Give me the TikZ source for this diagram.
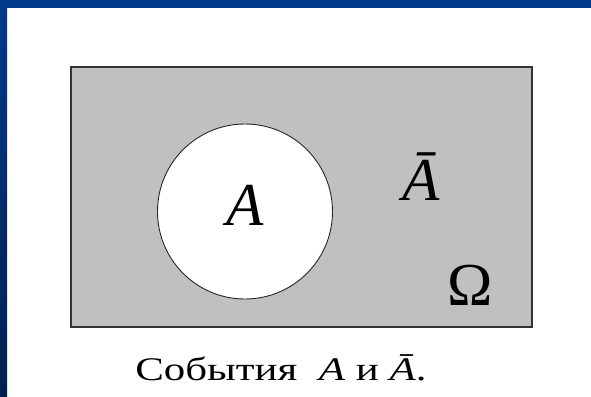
\documentclass[tikz,border=0pt]{standalone}
\usepackage{fontspec}
\setmainfont{Liberation Serif}
\usetikzlibrary{positioning}
\definecolor{barblue}{HTML}{003A8C}
\definecolor{barbluedark}{HTML}{00204F}
\definecolor{omegagray}{HTML}{C0C0C0}

\begin{document}
\begin{tikzpicture}[
    x=1pt, y=-1pt,
    space/.style={rectangle, draw=black!80, line width=1.5pt, fill=omegagray, minimum width=461pt, minimum height=260pt, inner sep=0pt},
    event/.style={circle, draw=black!85, line width=0.9pt, fill=white, minimum size=175pt, inner sep=0pt},
    lbl/.style={font=\fontsize{61}{61}\selectfont, anchor=base, inner sep=0pt},
    caption/.style={font=\fontsize{33}{33}\selectfont, anchor=base west, inner sep=0pt, xscale=1.3, transform shape}
]
\useasboundingbox (0,0) rectangle (591,396);

% slide border
\fill[white] (0,0) rectangle (591,396);
\shade[top color=barblue, bottom color=barbluedark] (0,0) rectangle (7,396);
\fill[barblue] (0,0) rectangle (591,8);

% sample space and event
\node[space] (omega) at (301.5,197) {};
\node[event] (setA) at (245,211.5) {};

\node[lbl] (labA) at (245,225) {\textit{A}};
\node[lbl] (labNotA) at (421,200) {\textit{\=A}};
\node[lbl] (labOmega) at (470,305) {Ω};

\node[caption] (cap) at (135,380) {События\ \ \textit{A} и \textit{\=A}.};

\end{tikzpicture}
\end{document}
